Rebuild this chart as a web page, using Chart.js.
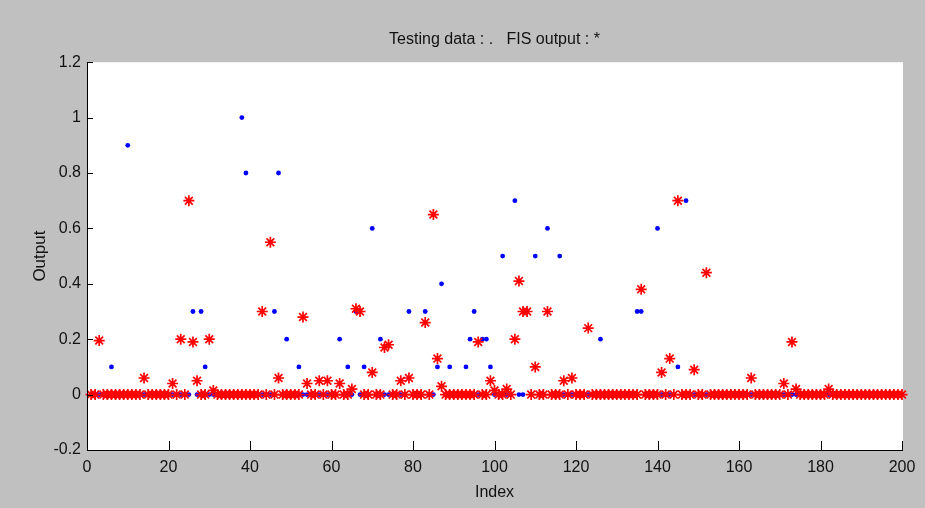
<!DOCTYPE html>
<html>
<head>
<meta charset="utf-8">
<title>Testing data vs FIS output</title>
<script src="https://cdn.jsdelivr.net/npm/chart.js@4.4.1/dist/chart.umd.min.js"></script>
<style>
  html, body { margin: 0; padding: 0; background: #c0c0c0; }
  #wrap { width: 925px; height: 508px; }
</style>
</head>
<body>
<div id="wrap"><canvas id="fis" width="925" height="508"></canvas></div>
<script>
(() => {
  'use strict';

  // ── Data (sample index 1..200) ──────────────────────────────────────────────

  const X_TICKS = [0, 20, 40, 60, 80, 100, 120, 140, 160, 180, 200];
  const Y_TICKS = [-0.2, 0, 0.2, 0.4, 0.6, 0.8, 1, 1.2];

  // Testing data ( . )
  const TESTING = [
    0, 0, 0, 0, 0, 0.1, 0, 0, 0, 0.9,
    0, 0, 0, 0, 0, 0, 0, 0, 0, 0,
    0, 0, 0, 0, 0, 0.3, 0, 0.3, 0.1, 0,
    0, 0, 0, 0, 0, 0, 0, 1, 0.8, 0,
    0, 0, 0, 0, 0, 0.3, 0.8, 0, 0.2, 0,
    0, 0.1, 0, 0, 0, 0, 0, 0, 0, 0,
    0, 0.2, 0, 0.1, 0, 0.3, 0, 0.1, 0, 0.6,
    0, 0.2, 0, 0, 0, 0, 0, 0, 0.3, 0,
    0, 0, 0.3, 0, 0, 0.1, 0.4, 0, 0.1, 0,
    0, 0, 0.1, 0.2, 0.3, 0, 0.2, 0.2, 0.1, 0,
    0, 0.5, 0, 0, 0.7, 0, 0, 0.3, 0, 0.5,
    0, 0, 0.6, 0, 0, 0.5, 0, 0, 0, 0,
    0, 0, 0, 0, 0, 0.2, 0, 0, 0, 0,
    0, 0, 0, 0, 0.3, 0.3, 0, 0, 0, 0.6,
    0, 0, 0, 0, 0.1, 0, 0.7, 0, 0, 0,
    0, 0, 0, 0, 0, 0, 0, 0, 0, 0,
    0, 0, 0, 0, 0, 0, 0, 0, 0, 0,
    0, 0, 0, 0, 0, 0, 0, 0, 0, 0,
    0, 0, 0, 0, 0, 0, 0, 0, 0, 0,
    0, 0, 0, 0, 0, 0, 0, 0, 0, 0,
  ];

  // FIS output ( * )
  const FIS = [
    0, 0, 0.195, 0, 0, 0, 0, 0, 0, 0,
    0, 0, 0, 0.06, 0, 0, 0, 0, 0, 0,
    0.04, 0, 0.2, 0, 0.7, 0.19, 0.05, 0, 0, 0.2,
    0.015, 0, 0, 0, 0, 0, 0, 0, 0, 0,
    0, 0, 0.3, 0, 0.55, 0, 0.06, 0, 0, 0,
    0, 0, 0.28, 0.04, 0, 0, 0.05, 0, 0.05, 0,
    0, 0.04, 0, 0, 0.02, 0.31, 0.3, 0, 0, 0.08,
    0, 0, 0.17, 0.18, 0, 0, 0.05, 0, 0.06, 0,
    0, 0, 0.26, 0, 0.65, 0.13, 0.03, 0, 0, 0,
    0, 0, 0, 0, 0, 0.19, 0, 0, 0.05, 0.015,
    0, 0, 0.02, 0, 0.2, 0.41, 0.3, 0.3, 0, 0.1,
    0, 0, 0.3, 0, 0, 0, 0.05, 0, 0.06, 0,
    0, 0, 0.24, 0, 0, 0, 0, 0, 0, 0,
    0, 0, 0, 0, 0, 0.38, 0, 0, 0, 0,
    0.08, 0, 0.13, 0, 0.7, 0, 0, 0, 0.09, 0,
    0, 0.44, 0, 0, 0, 0, 0, 0, 0, 0,
    0, 0, 0.06, 0, 0, 0, 0, 0, 0, 0,
    0.04, 0, 0.19, 0.02, 0, 0, 0, 0, 0, 0,
    0, 0.02, 0, 0, 0, 0, 0, 0, 0, 0,
    0, 0, 0, 0, 0, 0, 0, 0, 0, 0,
  ];

  const FONT = "'Liberation Sans', Arial, sans-serif";
  const TEXT = '#111';
  const toPoints = arr => arr.map((v, i) => ({ x: i + 1, y: v }));

  // ── Plugin: white axes area, left/bottom axis lines, inward ticks ───────────

  const axesBox = {
    id: 'axesBox',
    beforeDraw(chart) {
      const { ctx, chartArea: a } = chart;
      ctx.save();
      ctx.fillStyle = '#ffffff';
      ctx.fillRect(a.left, a.top, a.right - a.left + 1, a.bottom - a.top);
      ctx.restore();
    },
    afterDatasetsDraw(chart) {
      const { ctx, chartArea: a, scales } = chart;
      ctx.save();
      ctx.strokeStyle = '#000';
      ctx.lineWidth = 1;
      ctx.beginPath();
      ctx.moveTo(a.left + 0.5, a.top);
      ctx.lineTo(a.left + 0.5, a.bottom + 0.5);
      ctx.lineTo(a.right + 1, a.bottom + 0.5);
      X_TICKS.forEach(v => {
        const px = Math.round(scales.x.getPixelForValue(v)) + 0.5;
        ctx.moveTo(px, a.bottom);
        ctx.lineTo(px, a.bottom - 9);
      });
      Y_TICKS.forEach(v => {
        const py = Math.round(scales.y.getPixelForValue(v)) + 0.5;
        ctx.moveTo(a.left, py);
        ctx.lineTo(a.left + 6, py);
      });
      ctx.stroke();
      ctx.restore();
    },
  };

  // ── Chart ───────────────────────────────────────────────────────────────────

  new Chart(document.getElementById('fis'), {
    type: 'scatter',
    data: {
      datasets: [
        {
          label: 'FIS output',
          data: toPoints(FIS),
          pointStyle: 'star',
          pointRadius: 5.5,
          borderColor: '#ff0000',
          backgroundColor: '#ff0000',
          pointBorderWidth: 1.7,
          clip: false,
        },
        {
          label: 'Testing data',
          data: toPoints(TESTING),
          pointStyle: 'circle',
          pointRadius: 2.4,
          pointBorderWidth: 0,
          backgroundColor: '#0000ff',
          borderColor: '#0000ff',
          clip: false,
        },
      ],
    },
    options: {
      responsive: false,
      animation: false,
      events: [],
      layout: { padding: { left: 0, right: 23, top: 0, bottom: 6 } },
      plugins: {
        legend: { display: false },
        tooltip: { enabled: false },
        title: {
          display: true,
          fullSize: false,
          text: 'Testing data : .   FIS output : *',
          color: TEXT,
          font: { family: FONT, size: 16, weight: 'normal' },
          padding: { top: 30, bottom: 13 },
        },
      },
      scales: {
        x: {
          type: 'linear',
          min: 0,
          max: 200,
          afterBuildTicks: s => { s.ticks = X_TICKS.map(v => ({ value: v })); },
          afterFit: s => { s.height = 52; },
          grid: { display: false, drawTicks: false },
          border: { display: false },
          ticks: {
            color: TEXT,
            padding: 8,
            maxRotation: 0,
            font: { family: FONT, size: 16 },
            callback: v => String(v),
          },
          title: {
            display: true,
            text: 'Index',
            color: TEXT,
            font: { family: FONT, size: 16 },
            padding: { top: 0, bottom: 0 },
          },
        },
        y: {
          type: 'linear',
          min: -0.2,
          max: 1.2,
          afterBuildTicks: s => { s.ticks = Y_TICKS.map(v => ({ value: v })); },
          afterFit: s => { s.width = 87; },
          grid: { display: false, drawTicks: false },
          border: { display: false },
          ticks: {
            color: TEXT,
            padding: 6,
            font: { family: FONT, size: 16 },
            callback: v => String(Number(v.toFixed(1))),
          },
          title: {
            display: true,
            text: 'Output',
            color: TEXT,
            font: { family: FONT, size: 17 },
            padding: { top: 30, bottom: 0 },
          },
        },
      },
    },
    plugins: [axesBox],
  });
})();
</script>
</body>
</html>
